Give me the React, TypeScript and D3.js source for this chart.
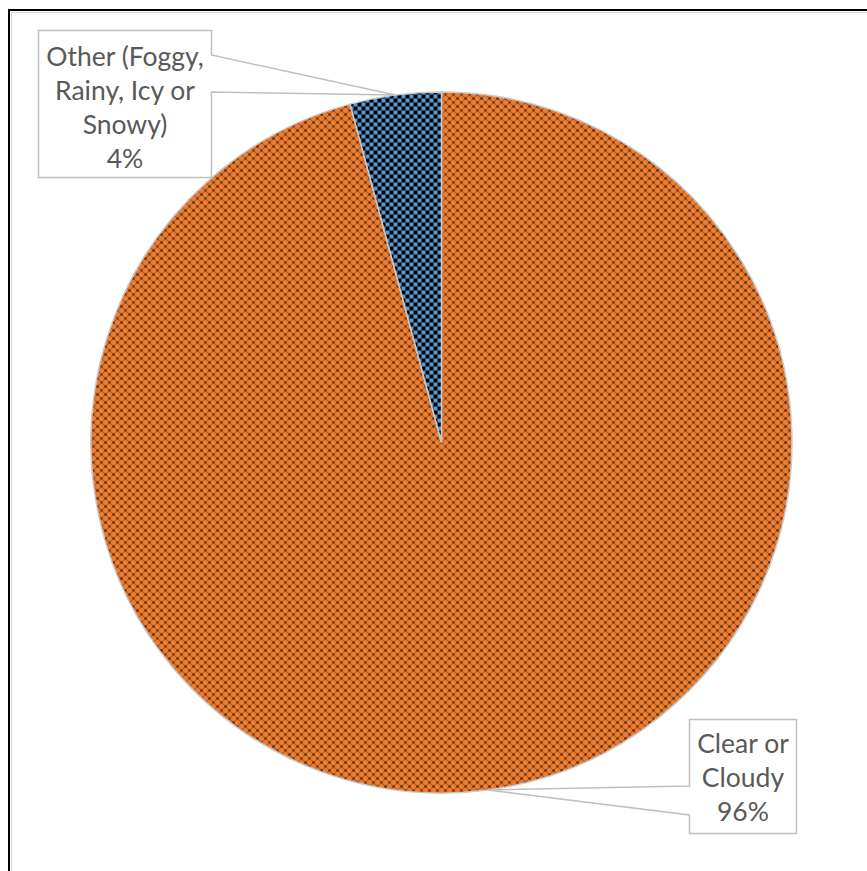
import React from "react";
import * as d3 from "d3";

const categories = ["Clear or Cloudy", "Other (Foggy, Rainy, Icy or Snowy)"];
const values = [95.8, 4.2];
const labelLines = [["Clear or", "Cloudy", "96%"], ["Other (Foggy,", "Rainy, Icy or", "Snowy)", "4%"]];
const patternIds = ["pOrange", "pBlue"];

const W = 867;
const H = 871;
const cx = 441.5;
const cy = 442.5;
const R = 350.5;

export default function App() {
  const pie = d3.pie<number>().sort(null).startAngle(0).endAngle(2 * Math.PI);
  const arcs = pie(values);
  const arcGen = d3.arc<d3.PieArcDatum<number>>().innerRadius(0).outerRadius(R);
  const fontFamily = "Lato, 'Open Sans', sans-serif";
  const lineH = 34;

  const tipOf = (a: d3.PieArcDatum<number>) => {
    const m = (a.startAngle + a.endAngle) / 2;
    return [cx + R * Math.sin(m), cy - R * Math.cos(m)];
  };
  const t0 = tipOf(arcs[0]);
  const t1 = tipOf(arcs[1]);

  const box1 = { x0: 38.5, y0: 30.5, x1: 211.5, y1: 177.5, w0: 55, w1: 92 };
  const box0 = { x0: 689.5, y0: 719.5, x1: 796.5, y1: 833.5, w0: 786, w1: 815 };

  const path1 = `M${box1.x0},${box1.y0} L${box1.x1},${box1.y0} L${box1.x1},${box1.w0} L${t1[0]},${t1[1]} L${box1.x1},${box1.w1} L${box1.x1},${box1.y1} L${box1.x0},${box1.y1} Z`;
  const path0 = `M${box0.x0},${box0.y0} L${box0.x1},${box0.y0} L${box0.x1},${box0.y1} L${box0.x0},${box0.y1} L${box0.x0},${box0.w1} L${t0[0]},${t0[1]} L${box0.x0},${box0.w0} Z`;

  return (
    <svg width={W} height={H} style={{ position: "absolute", left: 0, top: 0, background: "#fff" }}>
      <defs>
        <pattern id="pOrange" width={8} height={8} patternUnits="userSpaceOnUse">
          <rect width={8} height={8} fill="#ED7D31" />
          <path d="M0,0 L8,8 M8,0 L0,8" stroke="#1a0a00" strokeOpacity={0.6} strokeWidth={0.8} />
          <circle cx={0} cy={0} r={1} fill="#000" />
          <circle cx={8} cy={0} r={1} fill="#000" />
          <circle cx={0} cy={8} r={1} fill="#000" />
          <circle cx={8} cy={8} r={1} fill="#000" />
          <circle cx={4} cy={4} r={0.8} fill="#000" />
        </pattern>
        <pattern id="pBlue" width={8} height={8} patternUnits="userSpaceOnUse">
          <rect width={8} height={8} fill="#5B9BD5" />
          <rect x={0} y={0} width={4} height={4} fill="#000" />
          <rect x={4} y={4} width={4} height={4} fill="#000" />
        </pattern>
      </defs>
      <rect x={9} y={10} width={W + 10} height={H + 10} fill="none" stroke="#000" strokeWidth={2} />
      <rect x={11.5} y={12.5} width={W + 10} height={H + 10} fill="none" stroke="#d9d9d9" strokeWidth={1} />
      <g transform={`translate(${cx},${cy})`}>
        {arcs.map((a, i) => (
          <path key={categories[i]} d={arcGen(a) || ""} fill={`url(#${patternIds[i]})`} stroke="#c9c9c9" strokeWidth={1.5} />
        ))}
      </g>
      <path d={path1} fill="#fff" stroke="#bfbfbf" strokeWidth={1.5} />
      <path d={path0} fill="#fff" stroke="#bfbfbf" strokeWidth={1.5} />
      <g fontFamily={fontFamily} fontSize={26.5} fill="#595959" textAnchor="middle">
        {labelLines[1].map((s, j) => (
          <text key={s} x={(box1.x0 + box1.x1) / 2} y={66 + j * lineH}>{s}</text>
        ))}
        {labelLines[0].map((s, j) => (
          <text key={s} x={(box0.x0 + box0.x1) / 2} y={753 + j * lineH}>{s}</text>
        ))}
      </g>
    </svg>
  );
}
